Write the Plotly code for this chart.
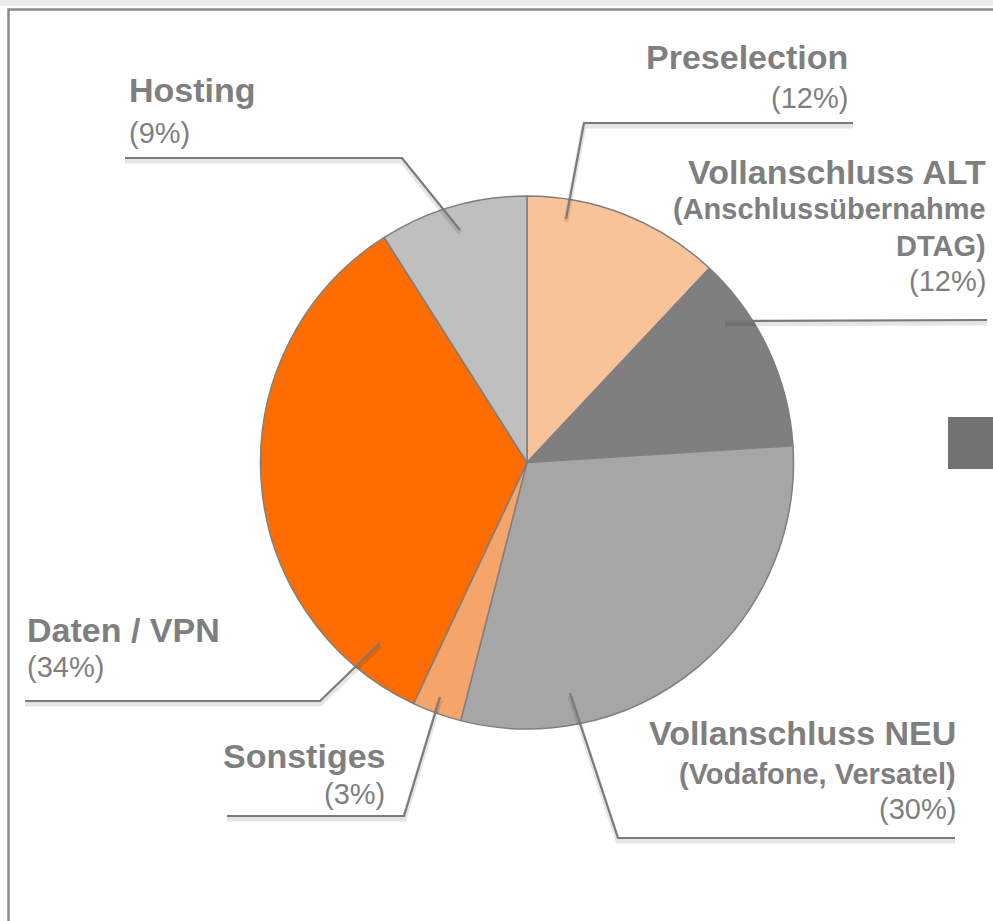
import plotly.graph_objects as go

# ---- data ----
labels = ["Preselection", "Vollanschluss ALT", "Vollanschluss NEU", "Sonstiges", "Daten / VPN", "Hosting"]
subtitles = ["", "(Anschlussübernahme<br>DTAG)", "(Vodafone, Versatel)", "", "", ""]
values = [12, 12, 30, 3, 34, 9]
colors = ["#F9C39A", "#7F7F7F", "#A6A6A6", "#F5A46A", "#FF6D00", "#BFBFBF"]

W, H = 993, 921
def px(x):
    return x / W
def py(y):
    return 1 - y / H

fig = go.Figure()
fig.add_trace(go.Pie(
    labels=labels, values=values, sort=False, direction="clockwise", rotation=0,
    marker=dict(colors=colors, line=dict(color="#7F7F7F", width=1.5)),
    textinfo="none", showlegend=False,
    domain=dict(x=[px(260), px(794)], y=[py(729), py(196)]),
))

TXT = "#7F7F7F"
FONT = "Liberation Sans, Arial, sans-serif"
annotations = []
def line(text, x, y, anchor, size, bold):
    t = f"<b>{text}</b>" if bold else text
    annotations.append(dict(text=t, x=px(x), y=py(y), xref="paper", yref="paper",
                            xanchor=anchor, yanchor="middle", showarrow=False,
                            font=dict(family=FONT, size=size, color=TXT)))

pct = [f"({v}%)" for v in values]
# label blocks: (index, anchor, x, [y centres])
layout_blocks = {
    0: ("right", 850, [57, 98]),
    1: ("right", 988, [172, 209, 246, 281]),
    2: ("right", 958, [733, 774, 809]),
    3: ("right", 387, [756, 794]),
    4: ("left", 25, [630, 667]),
    5: ("left", 127, [90, 133]),
}
for i, (anchor, x, ys) in layout_blocks.items():
    rows = [(labels[i], 34, True)]
    if subtitles[i]:
        for s in subtitles[i].split("<br>"):
            rows.append((s, 29, True))
    rows.append((pct[i], 29, False))
    for (txt, sz, b), y in zip(rows, ys):
        line(txt, x, y, anchor, sz, b)

# leader lines (pixel layout coordinates)
leaders = [
    [(566, 219), (584, 123), (853, 123)],
    [(725, 321), (987, 320)],
    [(570, 693), (618, 838), (955, 838)],
    [(440, 697), (404, 816), (227, 816)],
    [(380, 643), (320, 701), (25, 701)],
    [(460, 230), (402, 158), (125, 158)],
]
shapes = []
# page frame
shapes.append(dict(type="rect", xref="paper", yref="paper", x0=0, x1=1, y0=py(6), y1=1,
                   fillcolor="#EDEDED", line=dict(width=0), layer="below"))
shapes.append(dict(type="path", xref="paper", yref="paper",
                   path=f"M {px(8.5)},0 L {px(8.5)},{py(9.5)} L 1,{py(9.5)}",
                   line=dict(color="#8A8A8A", width=2.5)))
# grey square on the right
shapes.append(dict(type="rect", xref="paper", yref="paper", x0=px(948), x1=1.0, y0=py(469), y1=py(417),
                   fillcolor="#6F7472", line=dict(width=0)))
for pts in leaders:
    sh = "M " + " L ".join(f"{px(x)},{py(y + 3)}" for x, y in pts)
    shapes.append(dict(type="path", xref="paper", yref="paper", path=sh,
                       line=dict(color="rgba(0,0,0,0.10)", width=5)))
    p = "M " + " L ".join(f"{px(x)},{py(y)}" for x, y in pts)
    shapes.append(dict(type="path", xref="paper", yref="paper", path=p,
                       line=dict(color="#7A7A7A", width=2.2)))

fig.update_layout(
    width=W, height=H, margin=dict(l=0, r=0, t=0, b=0),
    paper_bgcolor="white", plot_bgcolor="white",
    annotations=annotations, shapes=shapes,
)
fig.write_html("out.html", config={"displayModeBar": False},
               post_script="document.body.style.margin='0';document.body.style.overflow='hidden';")
